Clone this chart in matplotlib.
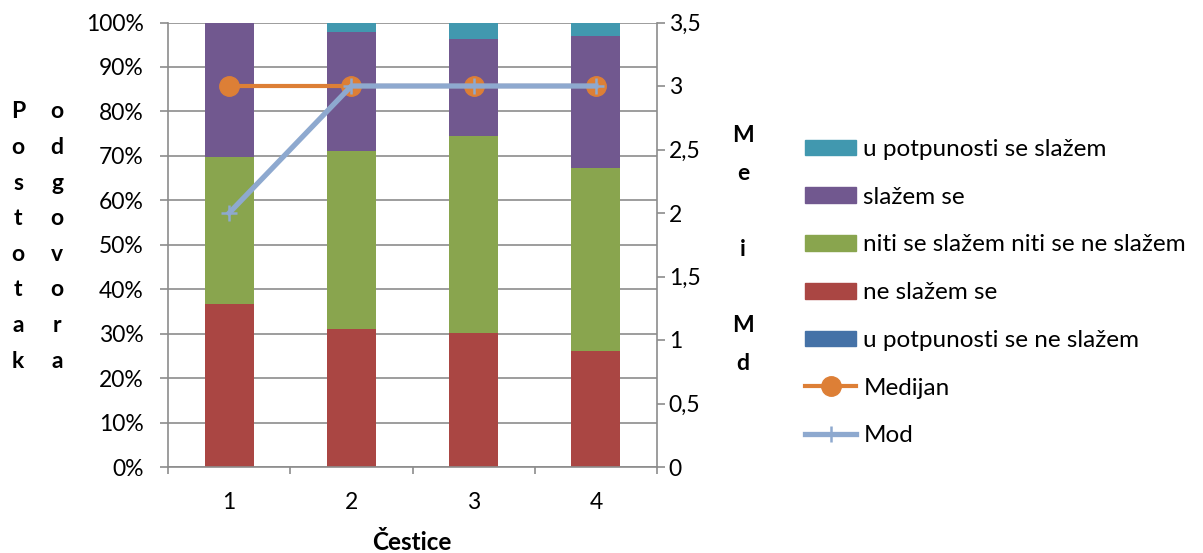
import matplotlib
matplotlib.use("Agg")
import matplotlib.pyplot as plt
import numpy as np
from matplotlib.patches import Patch
from matplotlib.lines import Line2D

categories = ["1", "2", "3", "4"]
u_potpunosti_ne = [0.0, 0.0, 0.0, 0.0]
ne_slazem = [36.6, 31.0, 30.1, 26.2]
niti = [33.1, 40.1, 44.3, 41.0]
slazem = [30.3, 26.8, 21.9, 29.8]
u_potpunosti_da = [0.0, 2.1, 3.7, 3.0]
medijan = [3, 3, 3, 3]
mod = [2, 3, 3, 3]

series = [
    ("u potpunosti se ne slažem", u_potpunosti_ne, "#4572A7"),
    ("ne slažem se", ne_slazem, "#AA4643"),
    ("niti se slažem niti se ne slažem", niti, "#89A54E"),
    ("slažem se", slazem, "#71588F"),
    ("u potpunosti se slažem", u_potpunosti_da, "#4198AF"),
]

plt.rcParams['font.family'] = ['Lato', 'DejaVu Sans']
FS = 16.5
LFS = 17.5
grid_c = "#8c8c8c"

fig = plt.figure(figsize=(12.03, 5.53), dpi=100)
ax = fig.add_axes([168/1203, 1-467/553, (657-168)/1203, (467-22.5)/553])
x = np.arange(1, len(categories)+1)
bottom = np.zeros(len(categories))
for name, vals, col in series:
    ax.bar(x, vals, width=0.4, bottom=bottom, color=col, zorder=2)
    bottom += np.array(vals)

ax.set_xlim(0.5, 4.5)
ax.set_ylim(0, 100)
ax.set_yticks(np.arange(0, 101, 10))
ax.set_yticklabels([f"{v}%" for v in range(0, 101, 10)], fontsize=FS)
ax.set_xticks(x)
ax.set_xticklabels(categories, fontsize=FS)
ax.set_xticks(np.arange(0.5, 4.6, 1), minor=True)
ax.tick_params(axis='x', which='major', length=0, pad=18)
ax.tick_params(axis='x', which='minor', length=5, color=grid_c, width=1.2)
ax.tick_params(axis='y', length=5.5, color=grid_c, width=1.2, pad=12)
ax.yaxis.grid(True, color=grid_c, linewidth=1.2, zorder=0)
ax.set_axisbelow(True)
for s in ['left', 'right', 'bottom']:
    ax.spines[s].set_color(grid_c)
    ax.spines[s].set_linewidth(1.2)
ax.spines['top'].set_visible(False)
fig.text(412/1203, 1-542/553, "Čestice", ha='center', va='center',
         fontsize=LFS, fontweight='bold')

ax2 = ax.twinx()
ax2.set_ylim(0, 3.5)
ticks2 = np.arange(0, 3.51, 0.5)
ax2.set_yticks(ticks2)
ax2.set_yticklabels([("%g" % t).replace(".", ",") for t in ticks2], fontsize=FS)
ax2.tick_params(axis='y', length=5.5, color=grid_c, width=1.2, pad=3)
for s in ax2.spines.values():
    s.set_visible(False)
ax2.plot(x, medijan, color="#DD7F36", linewidth=3, marker='o', markersize=14, zorder=3)
ax2.plot(x, mod, color="#8EA9CF", linewidth=3.8, marker='+', markersize=12,
         markeredgewidth=1.8, zorder=4)

def vtext(xp, ystart, text, spacing):
    for i, ch in enumerate(text):
        if ch.strip():
            fig.text(xp/1203, 1-(ystart+i*spacing)/553, ch, ha='center', va='center',
                     fontsize=FS, fontweight='bold')
vtext(18, 112, "Postotak", 35.6)
vtext(57, 112, "odgovora", 35.6)
vtext(743, 135, "Me i Md", 38)

handles = [Patch(color=c) for _, _, c in series[::-1]]
labels = [n for n, _, _ in series[::-1]]
handles += [Line2D([], [], color="#DD7F36", linewidth=3, marker='o', markersize=14),
            Line2D([], [], color="#8EA9CF", linewidth=3.8, marker='+', markersize=12,
                   markeredgewidth=1.8)]
labels += ["Medijan", "Mod"]
fig.legend(handles, labels, loc='upper left', bbox_to_anchor=(805/1203, 1-139/553),
           frameon=False, fontsize=LFS, handlelength=2.1, handleheight=0.62,
           handletextpad=0.3, labelspacing=1.1, borderaxespad=0, borderpad=0)

fig.savefig("out.png", dpi=100)
